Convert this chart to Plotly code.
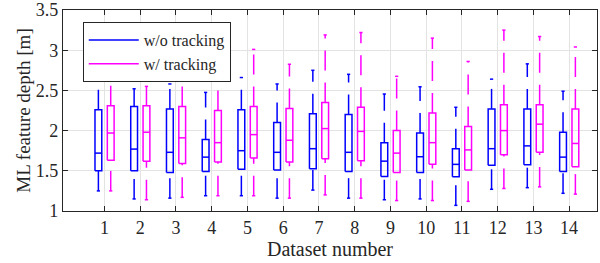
import plotly.graph_objects as go

datasets = list(range(1, 15))

# w/o tracking (blue)
wo_lower = [1.25, 1.15, 1.16, 1.19, 1.19, 1.16, 1.26, 1.16, 1.14, 1.15, 1.07, 1.27, 1.29, 1.22]
wo_q1 = [1.50, 1.50, 1.48, 1.49, 1.52, 1.51, 1.525, 1.49, 1.43, 1.48, 1.425, 1.57, 1.575, 1.49]
wo_med = [1.72, 1.77, 1.73, 1.67, 1.75, 1.73, 1.775, 1.73, 1.62, 1.675, 1.58, 1.775, 1.81, 1.67]
wo_q3 = [2.26, 2.30, 2.27, 1.89, 2.26, 2.10, 2.21, 2.20, 1.85, 1.97, 1.775, 2.27, 2.27, 1.98]
wo_upper = [2.70, 2.52, 2.58, 2.475, 2.66, 2.58, 2.75, 2.70, 2.455, 2.545, 2.29, 2.64, 2.83, 2.49]

# w/ tracking (magenta)
w_lower = [1.25, 1.14, 1.17, 1.19, 1.19, 1.16, 1.20, 1.16, 1.13, 1.13, 1.12, 1.28, 1.30, 1.21]
w_q1 = [1.63, 1.62, 1.59, 1.61, 1.66, 1.61, 1.65, 1.625, 1.48, 1.58, 1.51, 1.70, 1.73, 1.55]
w_med = [1.97, 1.98, 1.91, 1.85, 1.95, 1.88, 2.025, 1.99, 1.72, 1.85, 1.76, 2.00, 2.08, 1.84]
w_q3 = [2.31, 2.31, 2.30, 2.25, 2.30, 2.275, 2.35, 2.29, 2.00, 2.22, 2.05, 2.32, 2.32, 2.27]
w_upper = [2.72, 2.55, 2.63, 2.85, 3.01, 2.825, 3.19, 3.22, 2.675, 3.15, 2.86, 3.25, 3.17, 3.04]

y_ticks = [1, 1.5, 2, 2.5, 3, 3.5]
y_ticktext = ["1", "1.5", "2", "2.5", "3", "3.5"]

FONT = "Liberation Serif"
AX = "#262626"

series = [
    ("w/o tracking", "#0000FF", -0.17, wo_lower, wo_q1, wo_med, wo_q3, wo_upper),
    ("w/ tracking", "#FF00FF", 0.175, w_lower, w_q1, w_med, w_q3, w_upper),
]

BOXW = 0.19
CAPW = 0.09
LW = 1.5

fig = go.Figure()

for name, color, off, lo, q1, md, q3, hi in series:
    # whiskers (dashed, drawn from the lower end upward)
    for i, d in enumerate(datasets):
        xc = d + off
        for ya, yb in ((lo[i], q1[i]), (q3[i], hi[i])):
            fig.add_trace(go.Scatter(
                x=[xc, xc], y=[ya, yb], mode="lines",
                line=dict(color=color, width=LW, dash="20px,12px"),
                showlegend=False, hoverinfo="skip"))
    # caps
    cx, cy = [], []
    for i, d in enumerate(datasets):
        xc = d + off
        for v in (lo[i], hi[i]):
            cx += [xc - CAPW / 2, xc + CAPW / 2, None]
            cy += [v, v, None]
    fig.add_trace(go.Scatter(x=cx, y=cy, mode="lines",
                             line=dict(color=color, width=LW),
                             showlegend=False, hoverinfo="skip"))
    # boxes + medians
    bx, by = [], []
    for i, d in enumerate(datasets):
        xc = d + off
        x0, x1 = xc - BOXW / 2, xc + BOXW / 2
        bx += [x0, x1, x1, x0, x0, None, x0, x1, None]
        by += [q1[i], q1[i], q3[i], q3[i], q1[i], None, md[i], md[i], None]
    fig.add_trace(go.Scatter(x=bx, y=by, mode="lines", name=name,
                             line=dict(color=color, width=LW),
                             showlegend=True, hoverinfo="skip"))

fig.update_layout(
    width=600, height=263,
    margin=dict(l=63, r=3, t=10, b=52, autoexpand=False),
    paper_bgcolor="white", plot_bgcolor="white",
    font=dict(family=FONT, color=AX, size=18),
    legend=dict(
        x=0.037, y=0.94, xanchor="left", yanchor="top",
        bgcolor="white", bordercolor=AX, borderwidth=1,
        font=dict(family=FONT, size=16, color=AX),
        itemwidth=50, tracegroupgap=0,
    ),
    xaxis=dict(
        range=[-0.16, 14.78], tickvals=datasets,
        ticktext=[str(d) for d in datasets],
        showgrid=True, gridcolor="#e3e3e3", gridwidth=1.3,
        showline=True, linecolor=AX, linewidth=1.2, mirror="ticks",
        ticks="inside", ticklen=5, tickcolor=AX, tickwidth=1.2,
        zeroline=False, automargin=False,
        tickfont=dict(family=FONT, size=18, color=AX),
        title=dict(text="Dataset number", font=dict(family=FONT, size=20, color=AX), standoff=2),
    ),
    yaxis=dict(
        range=[1, 3.5], tickvals=y_ticks, ticktext=y_ticktext,
        showgrid=True, gridcolor="#e3e3e3", gridwidth=1.3,
        showline=True, linecolor=AX, linewidth=1.2, mirror="ticks",
        ticks="inside", ticklen=5, tickcolor=AX, tickwidth=1.2,
        zeroline=False, automargin=False,
        tickfont=dict(family=FONT, size=18, color=AX),
        title=dict(text="ML feature depth [m]", font=dict(family=FONT, size=19, color=AX), standoff=0),
    ),
)

fig.write_html("out.html", config={"displayModeBar": False},
               post_script="document.body.style.margin='0px';")
